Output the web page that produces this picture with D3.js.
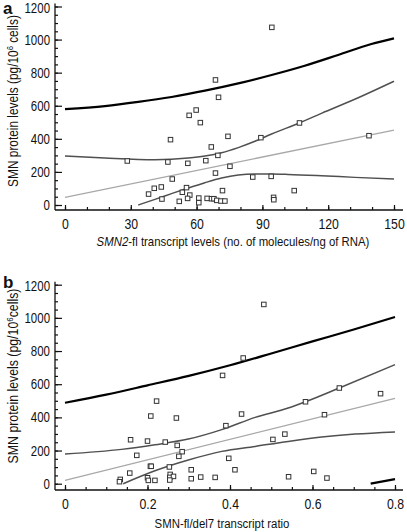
<!DOCTYPE html>
<html><head><meta charset="utf-8">
<script src="https://cdn.jsdelivr.net/npm/d3@7"></script>
<style>
body{margin:0;background:#fff}
svg{display:block}
text{font-family:"Liberation Sans Narrow","Liberation Sans",Arial,sans-serif;fill:#111}
</style>
</head><body>
<svg id="c" width="407" height="532"></svg>
<script>
// ---------- DATA ----------
const yTicks = [0, 200, 400, 600, 800, 1000, 1200];
const aTicks = [0, 30, 60, 90, 120, 150];
const bTicks = [0, 0.2, 0.4, 0.6, 0.8];

// Panel a points
const aPtX = [94.3,68.6,70.0,59.8,56.6,61.7,106.9,48.1,74.3,89.3,138.6,66.7,69.7,28.4,46.9,56.0,64.2,75.2,68.6,48.9,85.6,94.0,104.5,38.1,40.7,43.9,44.2,53.5,55.4,56.9,55.9,52.1,61.0,61.0,64.8,66.8,67.9,69.2,71.1,72.9,71.8,95.1,95.2];
const aPtY = [1074,756,651,574,542,498,496,395,415,407,419,351,300,266,260,252,268,234,193,157,169,173,87,66,101,109,36,77,105,60,40,22,42,14,40,38,38,28,24,24,87,46,32];
// Panel a curves
const aBlackX = [0,18.2,33.4,48.6,63.8,79,94.2,109.3,124.5,139.7,150];
const aBlackY = [580,598,623,653,691,735,786,842,907,973,1007];
const aUpX = [0,18.2,41,56.2,63.8,71.4,79,86.6,94.2,106.9,116.9,132.1,150];
const aUpY = [296,284,274,284,296,316,347,385,429,496,554,639,748];
const aLoX = [33.4,41,48.6,56.2,63.8,71.4,79,86.6,94.2,101.7,116.9,132.1,150];
const aLoY = [0,34,69,103,135,163,181,187,187,185,177,167,157];
const aRegX = [0,150];
const aRegY = [46,453];

// Panel b points
const bPtX = [0.482,0.432,0.382,0.222,0.665,0.765,0.583,0.208,0.270,0.428,0.629,0.390,0.159,0.200,0.243,0.272,0.504,0.533,0.174,0.284,0.276,0.397,0.207,0.209,0.253,0.412,0.306,0.157,0.255,0.134,0.132,0.200,0.202,0.218,0.254,0.263,0.254,0.306,0.329,0.364,0.542,0.603,0.635];
const bPtY = [1081,758,653,498,577,543,494,408,396,420,416,350,265,257,251,231,267,299,171,193,165,153,105,105,101,84,84,64,56,26,12,36,20,20,38,44,22,30,40,38,42,74,34];
// Panel b curves
const bBlackX = [0,0.1,0.2,0.3,0.4,0.5,0.6,0.7,0.8];
const bBlackY = [488,537,593,650,714,785,858,930,1005];
const bBlackLoX = [0.741,0.8];
const bBlackLoY = [0,28];
const bUpX = [0,0.137,0.218,0.299,0.380,0.461,0.541,0.583,0.665,0.8];
const bUpY = [179,207,235,269,326,400,456,494,577,718];
const bLoX = [0.141,0.218,0.299,0.380,0.461,0.541,0.622,0.703,0.8];
const bLoY = [0,78,143,195,225,255,281,299,312];
const bRegX = [0,0.8];
const bRegY = [20,515];

// ---------- DRAW ----------
const svg = d3.select("#c");
const zip = (xs, ys) => xs.map((x, i) => [x, ys[i]]);
const NARROW = 0.82;

function narrowTicks(sel, axis) {
  sel.selectAll("text").each(function () {
    const t = d3.select(this);
    if (axis === "y") {
      const tx = +t.attr("x");
      t.attr("transform", `translate(${tx},0) scale(${NARROW},1) translate(${-tx},0)`);
    } else {
      t.attr("transform", `scale(${NARROW},1)`);
    }
  });
}

// scale a text horizontally (in its own frame) so it has the target width
function fitWidth(textSel, target, pre) {
  const w = textSel.node().getBBox().width;
  const k = w > 0 ? target / w : 1;
  textSel.attr("transform", `${pre} scale(${k},1)`);
}

function panel(o) {
  const g = svg.append("g");
  const x = d3.scaleLinear().domain(o.xDomain).range([o.x0, o.x1]);
  const y = d3.scaleLinear().domain([0, 1200]).range([o.y0, o.y1]);
  const ax = 55, ay = o.axisY;

  // axis lines
  g.append("line").attr("x1", ax).attr("x2", ax).attr("y1", o.y1 - 3).attr("y2", ay)
    .attr("stroke", "#111").attr("stroke-width", 1.3);
  g.append("line").attr("x1", ax).attr("x2", 403).attr("y1", ay).attr("y2", ay)
    .attr("stroke", "#111").attr("stroke-width", 1.3);

  // y minor ticks
  const yMinor = g.append("g").attr("transform", `translate(${ax},0)`)
    .call(d3.axisRight(y).tickValues(d3.range(0, 1201, 50)).tickSize(3).tickFormat(""));
  yMinor.select(".domain").remove();
  // y major ticks with labels on left
  const yMajor = g.append("g").attr("transform", `translate(${ax},0)`)
    .call(d3.axisLeft(y).tickValues(yTicks).tickSizeInner(-7).tickSizeOuter(0).tickPadding(5).tickFormat(d3.format("d")));
  yMajor.select(".domain").remove();
  yMajor.selectAll("text").attr("font-size", 14).attr("font-family", null);
  yMajor.selectAll("text").filter(d => d === 1200).attr("dy", "0.42em");
  narrowTicks(yMajor, "y");

  // x minor ticks
  const xm = g.append("g").attr("transform", `translate(0,${ay})`)
    .call(d3.axisBottom(x).tickValues(o.minor).tickSize(-3).tickFormat(""));
  xm.select(".domain").remove();
  const xM = g.append("g").attr("transform", `translate(0,${ay})`)
    .call(d3.axisBottom(x).tickValues(o.ticks).tickSizeInner(-5).tickSizeOuter(0).tickPadding(8).tickFormat(o.fmt));
  xM.select(".domain").remove();
  xM.selectAll("text").attr("font-size", 15).attr("font-family", null);
  narrowTicks(xM, "x");
  g.selectAll(".tick line").attr("stroke", "#111").attr("stroke-width", 1.2);

  const line = d3.line().x(d => x(d[0])).y(d => y(d[1])).curve(d3.curveMonotoneX);
  const lin = d3.line().x(d => x(d[0])).y(d => y(d[1]));

  g.append("path").attr("d", lin(o.reg)).attr("fill", "none").attr("stroke", "#a8a8a8").attr("stroke-width", 1.3);
  g.append("path").attr("d", line(o.up)).attr("fill", "none").attr("stroke", "#505050").attr("stroke-width", 1.5);
  g.append("path").attr("d", line(o.lo)).attr("fill", "none").attr("stroke", "#505050").attr("stroke-width", 1.5);
  o.black.forEach(b => g.append("path").attr("d", line(b)).attr("fill", "none").attr("stroke", "#000").attr("stroke-width", 2.2));

  const s = 4.5;
  g.selectAll("rect.pt").data(o.pts).join("rect").attr("class", "pt")
    .attr("x", d => x(d[0]) - s / 2).attr("y", d => y(d[1]) - s / 2)
    .attr("width", s).attr("height", s)
    .attr("fill", "#fff").attr("stroke", "#333").attr("stroke-width", 1);

  // panel letter
  g.append("text").attr("x", 3).attr("y", o.letterY).attr("font-size", 17).attr("font-weight", "bold")
    .attr("font-family", "'Liberation Sans',Arial,sans-serif").text(o.letter);

  // y title
  const yt = g.append("text").attr("text-anchor", "middle").attr("font-size", 14);
  yt.append("tspan").text("SMN protein levels (pg/10");
  yt.append("tspan").attr("font-size", 9).attr("dy", -5).text("6");
  yt.append("tspan").attr("dy", 5).text(o.cellsSpace ? " cells)" : "cells)");
  fitWidth(yt, o.yTitleLen, `translate(18,${o.yTitleC}) rotate(-90)`);

  // x title
  const xt = g.append("text").attr("text-anchor", "middle").attr("font-size", 13.5);
  o.xTitle.forEach(p => xt.append("tspan").attr("font-style", p.i ? "italic" : null).text(p.t));
  fitWidth(xt, o.xTitleLen, `translate(${o.xTitleX},${o.xTitleY})`);
}

panel({
  xDomain: [0, 150], x0: 65, x1: 394, y0: 205, y1: 6.5, axisY: 210,
  ticks: aTicks, minor: d3.range(0, 151, 10), fmt: d3.format("d"),
  pts: zip(aPtX, aPtY), black: [zip(aBlackX, aBlackY)], up: zip(aUpX, aUpY), lo: zip(aLoX, aLoY), reg: zip(aRegX, aRegY),
  letter: "a", letterY: 14, yTitleC: 101, yTitleLen: 172, cellsSpace: true,
  xTitleX: 233, xTitleY: 246, xTitleLen: 273,
  xTitle: [{t: "SMN2", i: true}, {t: "-fl transcript levels (no. of molecules/ng of RNA)"}]
});
panel({
  xDomain: [0, 0.8], x0: 65, x1: 395, y0: 483.7, y1: 284.7, axisY: 490,
  ticks: bTicks, minor: d3.range(0, 0.8001, 0.05), fmt: d => d === 0 ? "0" : d3.format(".1f")(d),
  pts: zip(bPtX, bPtY), black: [zip(bBlackX, bBlackY), zip(bBlackLoX, bBlackLoY)], up: zip(bUpX, bUpY), lo: zip(bLoX, bLoY), reg: zip(bRegX, bRegY),
  letter: "b", letterY: 288, yTitleC: 376, yTitleLen: 175, cellsSpace: false,
  xTitleX: 222, xTitleY: 528, xTitleLen: 135,
  xTitle: [{t: "SMN-fl/del7 transcript ratio"}]
});
</script>
</body></html>
